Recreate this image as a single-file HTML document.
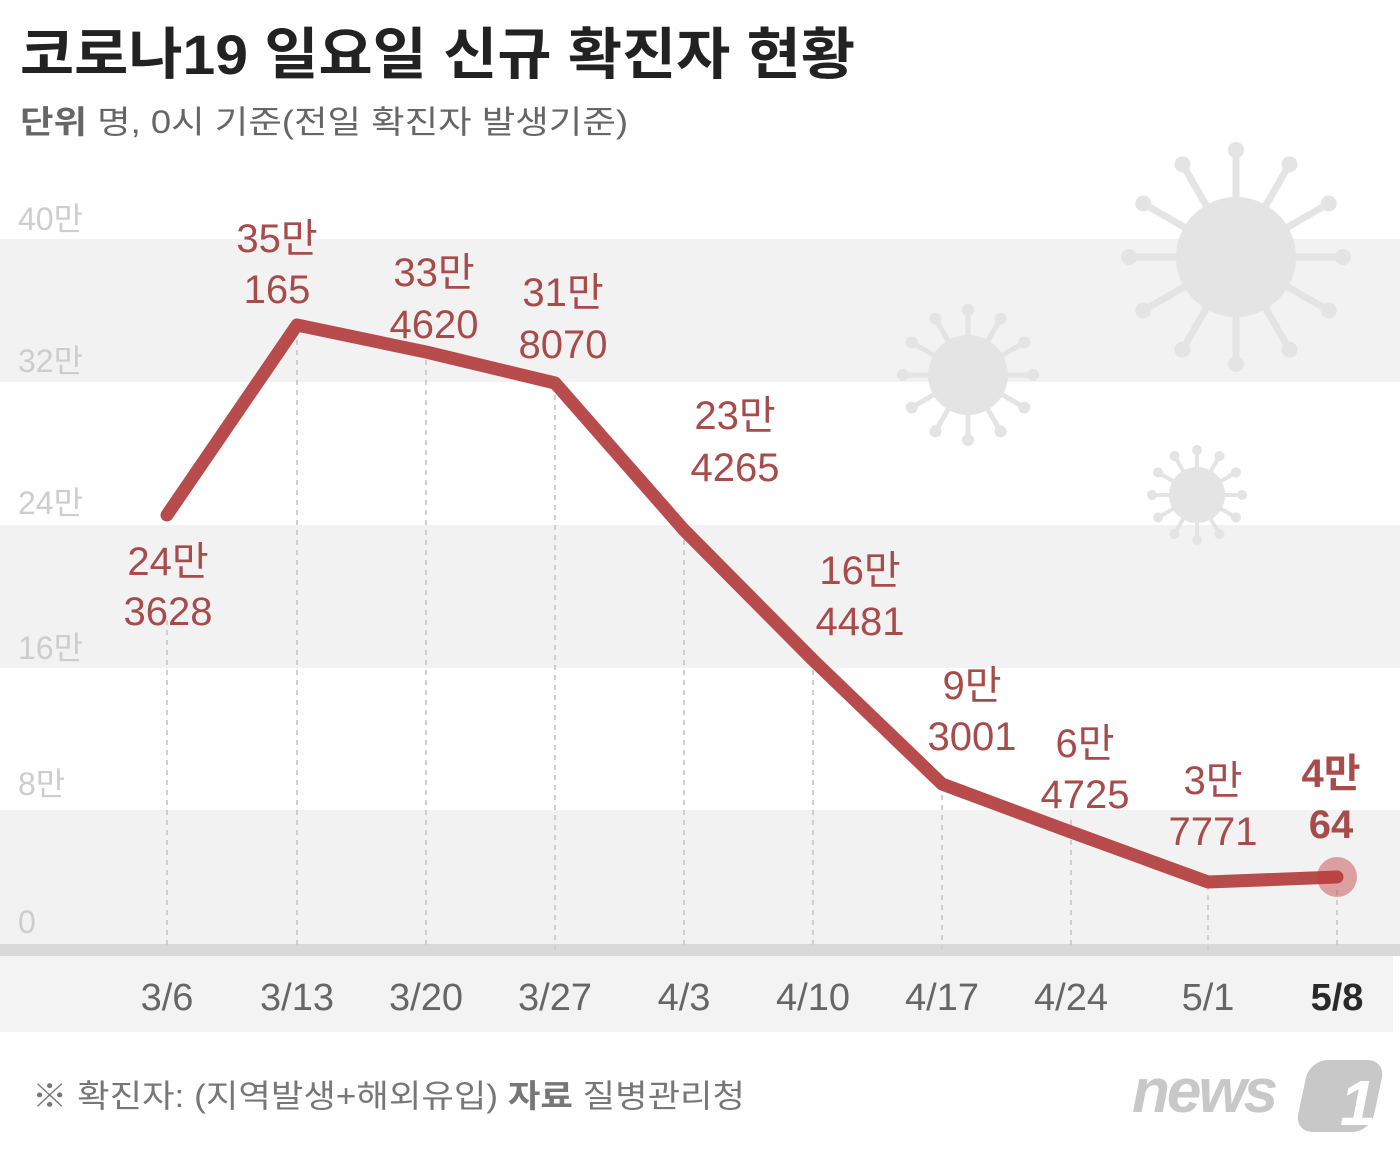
<!DOCTYPE html><html><head><meta charset="utf-8"><style>
body{margin:0;width:1400px;height:1153px;background:#fff;overflow:hidden;font-family:"Liberation Sans","Noto Sans CJK KR",sans-serif}
</style></head><body>
<svg width="1400" height="1153" xmlns="http://www.w3.org/2000/svg" font-family="Liberation Sans, Noto Sans CJK KR, sans-serif">
<rect x="0" y="239" width="1400" height="143" fill="#f2f2f2"/>
<rect x="0" y="525" width="1400" height="143" fill="#f2f2f2"/>
<rect x="0" y="810" width="1400" height="135" fill="#f2f2f2"/>
<rect x="0" y="944" width="1400" height="12" fill="#d9d9d9"/>
<rect x="0" y="956" width="1393" height="76" fill="#f3f3f3"/>
<g fill="#e4e4e4" stroke="#e4e4e4" stroke-width="7" stroke-linecap="round">
<circle cx="1236" cy="257" r="60" stroke="none"/>
<g id="s1"><line x1="1236" y1="257" x2="1236" y2="150"/><circle cx="1236" cy="150" r="8" stroke="none"/></g>
<use href="#s1" transform="rotate(30 1236 257)"/><use href="#s1" transform="rotate(60 1236 257)"/><use href="#s1" transform="rotate(90 1236 257)"/><use href="#s1" transform="rotate(120 1236 257)"/><use href="#s1" transform="rotate(150 1236 257)"/><use href="#s1" transform="rotate(180 1236 257)"/><use href="#s1" transform="rotate(210 1236 257)"/><use href="#s1" transform="rotate(240 1236 257)"/><use href="#s1" transform="rotate(270 1236 257)"/><use href="#s1" transform="rotate(300 1236 257)"/><use href="#s1" transform="rotate(330 1236 257)"/>
<circle cx="968" cy="375" r="40" stroke="none"/>
<g id="s2" stroke-width="5"><line x1="968" y1="375" x2="968" y2="310"/><circle cx="968" cy="310" r="6" stroke="none"/></g>
<use href="#s2" transform="rotate(30 968 375)"/><use href="#s2" transform="rotate(60 968 375)"/><use href="#s2" transform="rotate(90 968 375)"/><use href="#s2" transform="rotate(120 968 375)"/><use href="#s2" transform="rotate(150 968 375)"/><use href="#s2" transform="rotate(180 968 375)"/><use href="#s2" transform="rotate(210 968 375)"/><use href="#s2" transform="rotate(240 968 375)"/><use href="#s2" transform="rotate(270 968 375)"/><use href="#s2" transform="rotate(300 968 375)"/><use href="#s2" transform="rotate(330 968 375)"/>
<circle cx="1197" cy="495" r="28" stroke="none"/>
<g id="s3" stroke-width="4"><line x1="1197" y1="495" x2="1197" y2="450"/><circle cx="1197" cy="450" r="5" stroke="none"/></g>
<use href="#s3" transform="rotate(30 1197 495)"/><use href="#s3" transform="rotate(60 1197 495)"/><use href="#s3" transform="rotate(90 1197 495)"/><use href="#s3" transform="rotate(120 1197 495)"/><use href="#s3" transform="rotate(150 1197 495)"/><use href="#s3" transform="rotate(180 1197 495)"/><use href="#s3" transform="rotate(210 1197 495)"/><use href="#s3" transform="rotate(240 1197 495)"/><use href="#s3" transform="rotate(270 1197 495)"/><use href="#s3" transform="rotate(300 1197 495)"/><use href="#s3" transform="rotate(330 1197 495)"/>
</g>
<g stroke="#cfcfcf" stroke-width="2" stroke-dasharray="5,5">
<line x1="167" y1="620" x2="167" y2="950"/><line x1="297" y1="330" x2="297" y2="950"/><line x1="426" y1="350" x2="426" y2="950"/><line x1="555" y1="385" x2="555" y2="950"/><line x1="684" y1="530" x2="684" y2="950"/><line x1="813" y1="660" x2="813" y2="950"/><line x1="942" y1="785" x2="942" y2="950"/><line x1="1071" y1="820" x2="1071" y2="950"/><line x1="1208" y1="885" x2="1208" y2="950"/><line x1="1337" y1="890" x2="1337" y2="950"/>
</g>
<g font-size="32" fill="#cdcdcd">
<text x="18" y="230">40만</text><text x="18" y="372">32만</text><text x="18" y="514">24만</text><text x="18" y="659">16만</text><text x="18" y="795">8만</text><text x="18" y="933">0</text>
</g>
<polyline points="167,515 297,325 426,352 555,383 684,530 813,660 942,784 1071,832 1208,882 1337,877" fill="none" stroke="#b84c4c" stroke-width="13" stroke-linejoin="round" stroke-linecap="round"/>
<circle cx="1337" cy="877" r="20" fill="#c0393b" opacity="0.45"/>
<g font-size="40" fill="#a84b4b" text-anchor="middle">
<text x="168" y="575">24만</text><text x="168" y="625">3628</text>
<text x="277" y="252">35만</text><text x="277" y="303">165</text>
<text x="434" y="286">33만</text><text x="434" y="338">4620</text>
<text x="563" y="306">31만</text><text x="563" y="358">8070</text>
<text x="735" y="429">23만</text><text x="735" y="481">4265</text>
<text x="860" y="584">16만</text><text x="860" y="635">4481</text>
<text x="972" y="699">9만</text><text x="972" y="750">3001</text>
<text x="1085" y="757">6만</text><text x="1085" y="808">4725</text>
<text x="1213" y="794">3만</text><text x="1213" y="845">7771</text>
<text x="1331" y="787" font-weight="bold">4만</text><text x="1331" y="838" font-weight="bold">64</text>
</g>
<g font-size="38" fill="#666" text-anchor="middle">
<text x="167" y="1010">3/6</text><text x="297" y="1010">3/13</text><text x="426" y="1010">3/20</text><text x="555" y="1010">3/27</text><text x="684" y="1010">4/3</text><text x="813" y="1010">4/10</text><text x="942" y="1010">4/17</text><text x="1071" y="1010">4/24</text><text x="1208" y="1010">5/1</text><text x="1337" y="1010" fill="#2a2a2a" font-weight="bold">5/8</text>
</g>
<text x="20" y="74" font-size="56" font-weight="bold" fill="#222" textLength="835" lengthAdjust="spacingAndGlyphs">코로나19 일요일 신규 확진자 현황</text>
<text x="20" y="133" font-size="32" fill="#666" textLength="608" lengthAdjust="spacingAndGlyphs"><tspan font-weight="bold">단위</tspan>  명, 0시 기준(전일 확진자 발생기준)</text>
<text x="32" y="1107" font-size="32" fill="#777" textLength="713" lengthAdjust="spacingAndGlyphs">※ 확진자: (지역발생+해외유입)  <tspan font-weight="bold">자료</tspan>  질병관리청</text>
<text x="1132" y="1112" font-size="62" font-weight="bold" font-style="italic" fill="#c8c8c8" letter-spacing="-3">news</text>
<rect x="1305" y="1060" width="76" height="72" rx="18" fill="#c8c8c8" transform="skewX(-12) translate(230 0)"/>
<text x="1340" y="1125" font-size="64" font-weight="bold" font-style="italic" fill="#fff">1</text>
</svg>
</body></html>
